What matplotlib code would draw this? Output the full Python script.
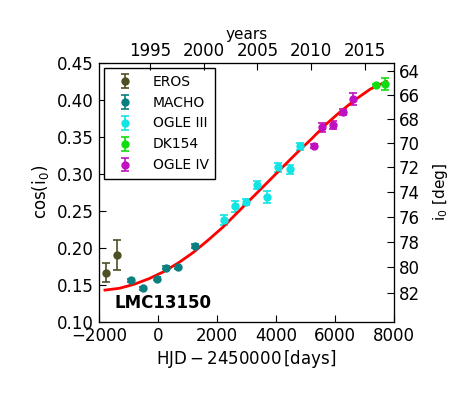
import numpy as np
import matplotlib
matplotlib.use("Agg")
import matplotlib.pyplot as plt

# data (HJD - 2450000, cos(i0), error)
eros_t = [-1763, -1380]
eros_c = [0.1666, 0.190]
eros_e = [0.013, 0.020]

macho_t = [-905, -498, -24, 271, 688, 1254]
macho_c = [0.156, 0.1455, 0.1585, 0.1734, 0.174, 0.2027]
macho_e = [0.002, 0.002, 0.002, 0.002, 0.002, 0.003]

ogle3_t = [2248, 2610, 2983, 3345, 3695, 4078, 4464, 4814]
ogle3_c = [0.2374, 0.256, 0.2626, 0.285, 0.2685, 0.309, 0.306, 0.337]
ogle3_e = [0.007, 0.007, 0.004, 0.006, 0.008, 0.006, 0.006, 0.005]

dk154_t = [7390, 7695]
dk154_c = [0.4194, 0.4216]
dk154_e = [0.002, 0.008]

ogle4_t = [5298, 5559, 5920, 6271, 6620]
ogle4_c = [0.338, 0.363, 0.3658, 0.384, 0.4014]
ogle4_e = [0.003, 0.006, 0.005, 0.004, 0.008]

model_t = [-1800, -1300, -800, -300, 200, 700, 1200, 1700, 2200, 2700, 3200,
           3700, 4200, 4700, 5200, 5700, 6200, 6700, 7200, 7750]
model_c = [0.143, 0.1455, 0.151, 0.1585, 0.168, 0.180, 0.194, 0.2105, 0.228,
           0.248, 0.268, 0.288, 0.308, 0.328, 0.347, 0.367, 0.3845, 0.4005,
           0.4145, 0.4247]

years = [1995, 2000, 2005, 2010, 2015]
incl_deg = [64, 66, 68, 70, 72, 74, 76, 78, 80, 82]

plt.rcParams['xtick.direction'] = 'in'
plt.rcParams['ytick.direction'] = 'in'
plt.rcParams['font.size'] = 12

fig = plt.figure(figsize=(4.74, 3.95), dpi=100)
ax = fig.add_axes([0.209, 0.185, 0.622, 0.656])

sets = [
    (eros_t, eros_c, eros_e, '#4f4f24', 'EROS'),
    (macho_t, macho_c, macho_e, '#0a7f7f', 'MACHO'),
    (ogle3_t, ogle3_c, ogle3_e, '#10e4e4', 'OGLE III'),
    (dk154_t, dk154_c, dk154_e, '#10dd10', 'DK154'),
    (ogle4_t, ogle4_c, ogle4_e, '#c010c0', 'OGLE IV'),
]
for t, c, e, col, lab in sets:
    ax.errorbar(t, c, yerr=e, fmt='o', color=col, ms=5, mec=col,
                capsize=3, elinewidth=1.2, capthick=1.2, label=lab)

ax.plot(model_t, model_c, color='red', lw=2)

ax.set_xlim(-2000, 8000)
ax.set_ylim(0.10, 0.45)
ax.set_xticks([-2000, 0, 2000, 4000, 6000, 8000])
ax.set_yticks(np.arange(0.10, 0.451, 0.05))
ax.yaxis.set_major_formatter(matplotlib.ticker.FormatStrFormatter('%.2f'))
ax.tick_params(top=False, right=False, length=5)
ax.tick_params(axis='y', pad=4)
ax.tick_params(axis='x', pad=3.5)
ax.set_xlabel(r'$\mathrm{HJD}-2450000\,[\mathrm{days}]$', fontsize=12, labelpad=2)
ax.set_ylabel(r'$\mathrm{cos(i_0)}$', fontsize=12, labelpad=4)

ax.text(-1460, 0.119, 'LMC13150', fontsize=12, fontweight='bold')

leg = ax.legend(loc='upper left', numpoints=1, fontsize=10, fancybox=False,
                edgecolor='black', framealpha=1, handletextpad=1.0,
                labelspacing=0.5, borderpad=0.5, borderaxespad=0.35)
leg.get_frame().set_linewidth(1.0)

# top axis: calendar years
ax_top = ax.twiny()
ax_top.set_xlim(ax.get_xlim())
year_hjd = [(y - 2000) * 365.25 + 1544.5 for y in years]
ax_top.set_xticks(year_hjd)
ax_top.set_xticklabels([str(y) for y in years])
ax_top.tick_params(length=5, pad=2)
ax_top.set_xlabel('years', fontsize=11, labelpad=2)

# right axis: inclination in degrees
ax_r = ax.twinx()
ax_r.set_ylim(ax.get_ylim())
ax_r.set_yticks([np.cos(np.radians(d)) for d in incl_deg])
ax_r.set_yticklabels([str(d) for d in incl_deg])
ax_r.tick_params(length=5)
ax_r.set_ylabel(r'$\mathrm{i_0\ [deg]}$', fontsize=11, labelpad=8)

fig.savefig('out.png', dpi=100, facecolor='white')
